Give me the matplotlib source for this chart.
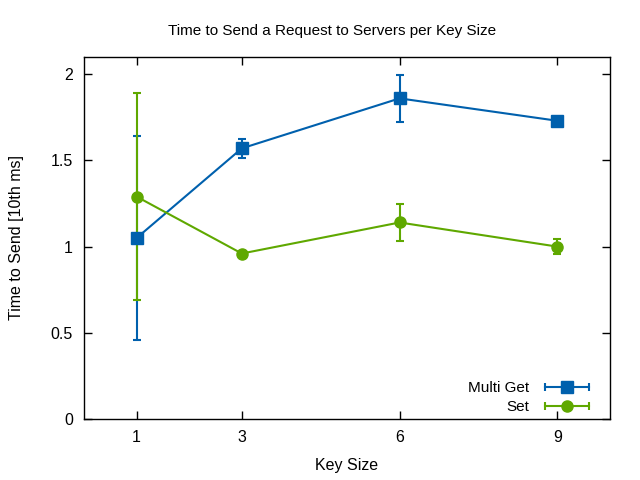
import matplotlib
matplotlib.use('Agg')
import matplotlib.pyplot as plt
from matplotlib.lines import Line2D
from matplotlib.legend_handler import HandlerLine2D, HandlerTuple

plt.rcParams['font.family'] = ['Liberation Sans', 'DejaVu Sans']
plt.rcParams['font.size'] = 11

# Data
key_sizes = [1, 3, 6, 9]
multi_get = [1.05, 1.57, 1.86, 1.73]
multi_get_err = [0.59, 0.055, 0.135, 0.005]
set_vals = [1.29, 0.96, 1.14, 1.00]
set_err = [0.60, 0.01, 0.105, 0.045]

blue = '#0060ad'
green = '#5fa800'

fig = plt.figure(figsize=(6.4, 4.8), dpi=100)
ax = fig.add_axes([84 / 640, 1 - 419 / 480, (610 - 84) / 640, (419 - 57) / 480])

ax.errorbar(key_sizes, multi_get, yerr=multi_get_err, color=blue, marker='s',
            markersize=8.5, linewidth=1.5, elinewidth=1.5, capsize=3, capthick=1.5)
ax.errorbar(key_sizes, set_vals, yerr=set_err, color=green, marker='o',
            markersize=8, linewidth=1.5, elinewidth=1.5, capsize=3, capthick=1.5)

ax.set_xlim(0, 10)
ax.set_ylim(0, 2.1)
ax.set_xticks(key_sizes)
ax.set_yticks([0, 0.5, 1, 1.5, 2])
ax.set_yticklabels(['0', '0.5', '1', '1.5', '2'])
ax.tick_params(direction='in', length=6, width=1, top=True, right=True,
               labelsize=11.5, pad=8)
for s in ax.spines.values():
    s.set_linewidth(1)

fig.text(332 / 640, 1 - 35 / 480, 'Time to Send a Request to Servers per Key Size',
         ha='center', va='baseline', fontsize=11)
ax.set_xlabel('Key Size', labelpad=9, fontsize=11.5)
ax.set_ylabel('Time to Send [10th ms]', labelpad=19, fontsize=11.5)

# gnuplot-style legend samples: horizontal bar with end caps and a marker
handles = []
hmap = {}
for c, m, ms in [(blue, 's', 8.5), (green, 'o', 8)]:
    bar = Line2D([], [], color=c, linewidth=1.5, marker='|', markersize=6,
                 markeredgewidth=1.5)
    mk = Line2D([], [], color=c, linestyle='none', marker=m, markersize=ms)
    hmap[bar] = HandlerLine2D(numpoints=2)
    hmap[mk] = HandlerLine2D(numpoints=1)
    h = (bar, mk)
    hmap[h] = HandlerTuple(ndivide=1, pad=0)
    handles.append(h)

ax.legend(handles, ['Multi Get', 'Set'], loc='lower right', frameon=False,
          markerfirst=False, handlelength=3.5, handletextpad=0.72,
          labelspacing=0.35, fontsize=11, borderaxespad=0, borderpad=0.3,
          bbox_to_anchor=(1 - 12 / 526, 0), handler_map=hmap)

fig.savefig('out.png', dpi=100)
